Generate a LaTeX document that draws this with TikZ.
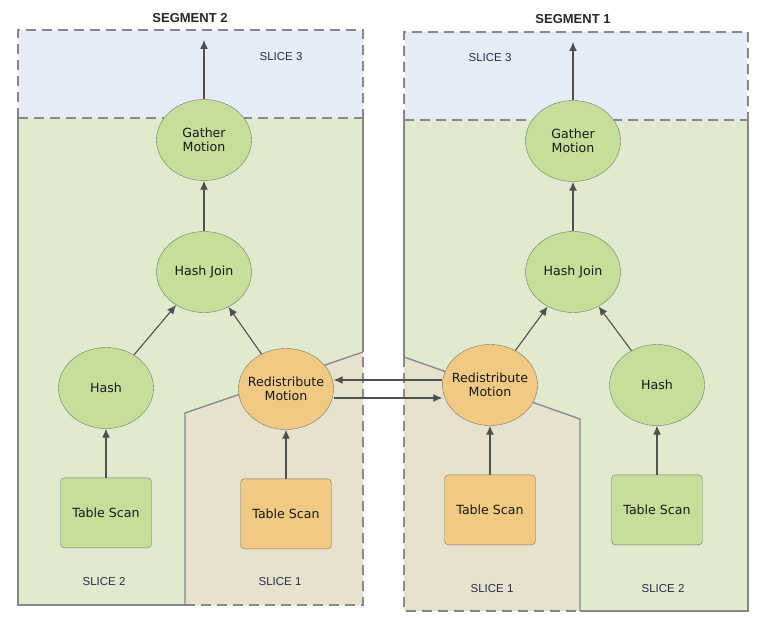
\documentclass[tikz,border=0pt]{standalone}
\usepackage{fontspec}
\setmainfont{DejaVu Sans}
\newfontfamily\labelfont{Liberation Sans}
\usetikzlibrary{positioning, arrows.meta, shapes.geometric}
\definecolor{sliceone}{RGB}{230,226,205}
\definecolor{slicetwo}{RGB}{223,234,206}
\definecolor{slicethree}{RGB}{230,236,245}
\definecolor{nodegreen}{RGB}{197,222,154}
\definecolor{nodeorange}{RGB}{240,201,130}
\definecolor{edge}{RGB}{80,80,80}
\definecolor{border}{RGB}{135,135,135}
\definecolor{nodeline}{RGB}{120,120,105}
\definecolor{labelink}{RGB}{45,45,75}
\tikzset{
    arrow/.style={draw=edge,line width=1.1pt,-{Latex[length=9pt,width=8pt]}},
    block/.style={shape=rectangle,draw=nodeline,rounded corners=4pt,minimum width=91pt,minimum height=70pt,text=black!90,font=\fontsize{12.6}{14}\selectfont},
    op/.style={shape=ellipse,draw=nodeline,minimum width=95pt,minimum height=81pt,inner sep=0pt,align=center,text=black!90,font=\fontsize{12.6}{14}\selectfont},
    wide/.style={inner xsep=-6pt},
    gnode/.style={fill=nodegreen},
    onode/.style={fill=nodeorange},
    wall/.style={draw=border,line width=1.3pt},
    gap/.style={wall,dash pattern=on 10pt off 6pt},
    slicelabel/.style={text=labelink,font=\labelfont\fontsize{11.5}{13}\selectfont},
    seglabel/.style={text=black!85,font=\labelfont\bfseries\fontsize{13}{15}\selectfont}
}

\begin{document}
\begin{tikzpicture}[x=1pt,y=-1pt]
    % define distances
    \def\dist{49pt}
    \def\offset{9pt}

    \useasboundingbox (0,0) rectangle (767,618);

    % slice areas
    \fill[slicethree] (18,30) rectangle (363,118);
    \fill[slicetwo]   (18,118) rectangle (363,605);
    \fill[sliceone]   (185,605) -- (185,413) -- (363,352) -- (363,605) -- cycle;
    \fill[slicethree] (404,32) rectangle (748,120);
    \fill[slicetwo]   (404,120) rectangle (748,611);
    \fill[sliceone]   (404,357) -- (580,419) -- (580,611) -- (404,611) -- cycle;

    % segment walls
    \draw[gap]  (18,118) -- (18,30) -- (363,30) -- (363,118) (18,118) -- (363,118);
    \draw[gap]  (185,605) -- (363,605) -- (363,352);
    \draw[wall] (185,605) -- (18,605) -- (18,118) (363,118) -- (363,352);
    \draw[wall] (185,605) -- (185,413) -- (363,352);
    \draw[gap]  (404,120) -- (404,32) -- (748,32) -- (748,120) (404,120) -- (748,120);
    \draw[gap]  (404,357) -- (404,611) -- (580,611);
    \draw[wall] (404,120) -- (404,357) (748,120) -- (748,611) -- (580,611);
    \draw[wall] (404,357) -- (580,419) -- (580,611);

    % labels
    \node [seglabel]   at (190,18)  (seg2) {SEGMENT 2};
    \node [seglabel]   at (573,19)  (seg1) {SEGMENT 1};
    \node [slicelabel] at (281,57)  (s3l)  {SLICE 3};
    \node [slicelabel] at (104,582) (s2l)  {SLICE 2};
    \node [slicelabel] at (280,582) (s1l)  {SLICE 1};
    \node [slicelabel] at (490,58)  (s3r)  {SLICE 3};
    \node [slicelabel] at (492,589) (s1r)  {SLICE 1};
    \node [slicelabel] at (663,589) (s2r)  {SLICE 2};

    % nodes segment 2
    \node [op, gnode] at (204,140) (gather2) {Gather\\Motion};
    \node [op, gnode] at (204,272) (join2)   {Hash Join};
    \node [op, gnode] at (106,388) (hash2)   {Hash};
    \node [op, wide, onode] at (286,389) (redist2) {Redistribute\\Motion};
    \node [block, gnode, below=\dist of hash2]   (scanh2) {Table Scan};
    \node [block, onode, below=\dist of redist2] (scanr2) {Table Scan};

    % nodes segment 1
    \node [op, gnode] at (573,141) (gather1) {Gather\\Motion};
    \node [op, gnode] at (573,272) (join1)   {Hash Join};
    \node [op, wide, onode] at (490,385) (redist1) {Redistribute\\Motion};
    \node [op, gnode] at (657,385) (hash1)   {Hash};
    \node [block, onode, below=\dist of redist1] (scanr1) {Table Scan};
    \node [block, gnode, below=\dist of hash1]   (scanh1) {Table Scan};

    % end points of the output arrows
    \coordinate (out2) at (204,40);
    \coordinate (out1) at (573,42);

    % draw arrows
    \begin{scope}[arrow]
        \draw (gather2) -- (out2);
        \draw (join2) -- (gather2);
        \draw (hash2) -- (join2);
        \draw (redist2) -- (join2);
        \draw (scanh2) -- (hash2);
        \draw (scanr2) -- (redist2);
        \draw (gather1) -- (out1);
        \draw (join1) -- (gather1);
        \draw (redist1) -- (join1);
        \draw (hash1) -- (join1);
        \draw (scanr1) -- (redist1);
        \draw (scanh1) -- (hash1);
        \draw ([yshift=\offset]redist2.east -| redist1.west) -- ([yshift=\offset]redist2.east);
        \draw ([yshift=-\offset]redist2.east) -- ([yshift=-\offset]redist2.east -| redist1.west);
    \end{scope}
\end{tikzpicture}
\end{document}
